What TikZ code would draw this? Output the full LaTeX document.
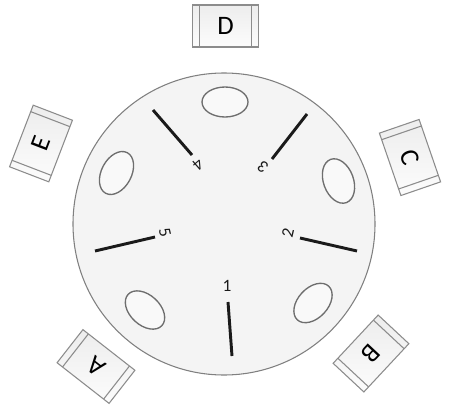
\documentclass[tikz,border=0pt]{standalone}
\usepackage{fontspec}
\setmainfont{Carlito}
\usetikzlibrary{shapes.geometric,calc}
\definecolor{platebd}{HTML}{808080}
\definecolor{platefill}{HTML}{F4F4F4}
\definecolor{holebd}{HTML}{6E6E6E}
\definecolor{holefill}{HTML}{F9F9F9}
\definecolor{traybd}{HTML}{8C8C8C}
\definecolor{traytop}{HTML}{EDEDED}
\definecolor{traybot}{HTML}{FCFCFC}
\definecolor{armcol}{HTML}{1A1A1A}
\tikzset{
  plate/.style={circle, draw=platebd, line width=0.8pt, fill=platefill, minimum size=226.5pt, inner sep=0pt, outer sep=0pt},
  hole/.style={ellipse, draw=holebd, line width=1pt, fill=holefill, minimum width=34.5pt, minimum height=22.5pt, inner sep=0pt, outer sep=0pt},
  arm/.style={line width=2.2pt, draw=armcol},
  num/.style={font=\fontsize{13}{13}\selectfont, inner sep=0pt, text=armcol},
  tray/.style={rectangle, draw=traybd, line width=0.8pt, top color=traytop, bottom color=traybot, minimum width=49.5pt, minimum height=31.5pt, inner sep=0pt, outer sep=0pt, font=\fontsize{20}{20}\selectfont},
  trayline/.style={draw=traybd, line width=0.8pt}
}
\begin{document}
\begin{tikzpicture}[x=0.75pt,y=0.75pt]
\useasboundingbox (0,0) rectangle (450,-414);
\node[plate] (plate) at (224,-224) {};
% holes
\node[hole] (h1) at (225,-102) {};
\node[hole, rotate=62] (h2) at (116.5,-173) {};
\node[hole, rotate=110] (h3) at (338.5,-181) {};
\node[hole, rotate=-43] (h4) at (145,-310) {};
\node[hole, rotate=47] (h5) at (313,-303) {};
% arms
\coordinate (a1i) at (228,-302); \coordinate (a1o) at (232,-356);
\coordinate (a2i) at (300,-238); \coordinate (a2o) at (357,-251);
\coordinate (a3i) at (272,-159); \coordinate (a3o) at (307,-114);
\coordinate (a4i) at (192,-155); \coordinate (a4o) at (153,-110);
\coordinate (a5i) at (155,-237); \coordinate (a5o) at (95,-251);
\draw[arm] (a1i) -- (a1o);
\draw[arm] (a2i) -- (a2o);
\draw[arm] (a3i) -- (a3o);
\draw[arm] (a4i) -- (a4o);
\draw[arm] (a5i) -- (a5o);
% numbers
\node[num] (n1) at (227,-286) {1};
\node[num, rotate=77] (n2) at (288,-233) {2};
\node[num, rotate=142] (n3) at (263,-167) {3};
\node[num, rotate=221] (n4) at (198,-165) {4};
\node[num, rotate=283] (n5) at (165,-233) {5};
% trays
\node[tray] (D) at (225.5,-26) {D};
\node[tray, rotate=69] (E) at (41,-143.5) {E};
\node[tray, rotate=-71] (C) at (410,-157.5) {C};
\node[tray, rotate=-133] (B) at (371,-353.5) {B};
\node[tray, rotate=142] (A) at (96,-366.5) {A};
\foreach \t in {A,B,C,D,E}{
  \draw[trayline] ($(\t.north west)!0.105!(\t.north east)$) -- ($(\t.south west)!0.105!(\t.south east)$);
  \draw[trayline] ($(\t.north east)!0.105!(\t.north west)$) -- ($(\t.south east)!0.105!(\t.south west)$);
}
\end{tikzpicture}
\end{document}
